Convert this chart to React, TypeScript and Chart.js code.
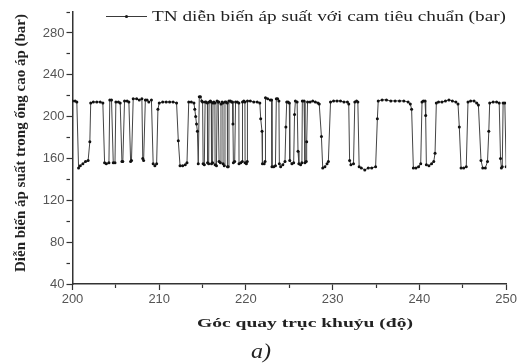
import { useEffect, useRef } from 'react';
import { Chart, registerables } from 'chart.js';

Chart.register(...registerables);

// Crank angle (deg) and pressure (bar), in four stretches
const angleSeg1 = [
  200.0, 200.3, 200.5, 200.7, 200.9, 201.2, 201.5, 201.8, 202.0, 202.1,
  202.4, 202.8, 203.2, 203.5, 203.7, 203.9, 204.2, 204.3, 204.5, 204.7,
  204.9, 205.0, 205.3, 205.5, 205.7, 205.8, 206.0, 206.3, 206.5, 206.7,
  206.8, 207.0, 207.4, 207.7, 208.0, 208.1, 208.2, 208.4, 208.6, 208.8,
  209.1, 209.3, 209.5, 209.7, 209.85, 210.0, 210.4, 210.8, 211.2, 211.6,
  212.0, 212.2, 212.4, 212.7, 213.0, 213.2, 213.4, 213.7, 214.0, 214.1,
  214.2, 214.3, 214.4, 214.5,
];
const pressureSeg1 = [
  215, 215, 214, 151, 153, 155, 157, 158, 176, 213,
  214, 214, 214, 213, 156, 155, 156, 216, 216, 156,
  156, 214, 214, 213, 157, 157, 215, 215, 214, 157,
  158, 217, 217, 216, 217, 160, 158, 216, 216, 214,
  216, 155, 153, 155, 207, 213, 214, 214, 214, 214,
  213, 177, 153, 153, 154, 156, 214, 214, 213, 207,
  200, 193, 186, 155,
];

const angleSeg2 = [
  214.62, 214.75, 214.9, 215.0, 215.06, 215.2, 215.29, 215.4, 215.55, 215.57,
  215.7, 215.75, 215.9, 216.0, 216.03, 216.15, 216.2, 216.3, 216.42, 216.44,
  216.6, 216.67, 216.8, 216.88, 216.9, 217.05, 217.12, 217.25, 217.34, 217.36,
  217.5, 217.58, 217.7, 217.85, 217.87, 217.95, 218.04, 218.2, 218.35, 218.45,
  218.5, 218.55, 218.7, 218.8, 219.0, 219.18, 219.2, 219.4, 219.58, 219.6,
  219.75, 219.88, 219.9, 220.05, 220.15, 220.17, 220.5, 220.9, 221.3, 221.6,
];
const pressureSeg2 = [
  219, 219, 215, 214, 155, 154, 214, 214, 213, 156,
  155, 214, 215, 214, 155, 156, 213, 214, 213, 154,
  153, 215, 214, 214, 157, 156, 212, 214, 213, 155,
  153, 214, 214, 213, 152, 152, 215, 215, 214, 214,
  193, 156, 157, 214, 214, 213, 155, 156, 157, 214,
  215, 214, 156, 155, 157, 215, 215, 214, 214, 213,
];

const angleSeg3 = [
  221.7, 221.85, 221.9, 222.1, 222.2, 222.25, 222.5, 222.8, 222.95, 223.0,
  223.2, 223.4, 223.5, 223.65, 223.8, 223.85, 224.0, 224.25, 224.5, 224.6,
  224.7, 224.85, 225.0, 225.05, 225.3, 225.5, 225.6, 225.7, 225.9, 226.0,
  226.1, 226.3, 226.45, 226.5, 226.7, 226.8, 226.95, 227.0, 227.1,
];
const pressureSeg3 = [
  198, 186, 155, 155, 157, 218, 217, 216, 216, 152,
  152, 153, 217, 217, 215, 155, 152, 154, 157, 190,
  214, 214, 213, 158, 155, 156, 202, 215, 214, 167,
  155, 154, 156, 215, 215, 156, 157, 176, 214,
];

const angleSeg4 = [
  227.4, 227.7, 228.0, 228.3, 228.45, 228.7, 228.85, 229.1, 229.35, 229.5,
  229.75, 230.1, 230.5, 230.9, 231.3, 231.7, 231.85, 231.95, 232.1, 232.4,
  232.55, 232.75, 232.9, 233.05, 233.3, 233.7, 234.1, 234.5, 234.95, 235.15,
  235.25, 235.7, 236.2, 236.7, 237.2, 237.7, 238.2, 238.7, 238.95, 239.1,
  239.3, 239.6, 239.9, 240.15, 240.3, 240.45, 240.65, 240.72, 240.8, 241.1,
  241.4, 241.65, 241.8, 241.95, 242.2, 242.6, 243.0, 243.4, 243.8, 244.2,
  244.45, 244.6, 244.8, 245.1, 245.4, 245.6, 245.9, 246.3, 246.6, 246.8,
  247.1, 247.3, 247.6, 247.85, 248.0, 248.1, 248.5, 248.9, 249.2, 249.35,
  249.45, 249.55, 249.65, 249.85, 250.0,
];
const pressureSeg4 = [
  214, 215, 214, 213, 212, 181, 151, 152, 155, 157,
  214, 215, 215, 215, 214, 214, 212, 158, 154, 155,
  214, 215, 214, 152, 151, 149, 151, 151, 152, 198,
  215, 216, 216, 215, 215, 215, 215, 214, 212, 207,
  151, 151, 152, 155, 214, 215, 215, 201, 154, 153,
  155, 157, 165, 213, 214, 214, 215, 216, 215, 214,
  212, 190, 151, 151, 152, 214, 215, 215, 213, 211,
  158, 151, 151, 157, 186, 213, 214, 214, 213, 160,
  151, 152, 213, 213, 152,
];

const crankAngle = [...angleSeg1, ...angleSeg2, ...angleSeg3, ...angleSeg4];
const pressure = [...pressureSeg1, ...pressureSeg2, ...pressureSeg3, ...pressureSeg4];

const xTickLabels = [200, 210, 220, 230, 240, 250];
const yTickLabels = [40, 80, 120, 160, 200, 240, 280];

const seriesLabel = 'TN diễn biến áp suất với cam tiêu chuẩn (bar)';
const xTitle = 'Góc quay trục khuỷu (độ)';
const yTitle = 'Diễn biến áp suất trong ống cao áp (bar)';
const caption = 'a)';

function fitText(
  ctx: CanvasRenderingContext2D,
  text: string,
  x: number,
  y: number,
  width: number,
  font: string,
  color: string,
  rotate = false,
) {
  ctx.save();
  ctx.font = font;
  ctx.fillStyle = color;
  ctx.textBaseline = 'alphabetic';
  ctx.textAlign = 'left';
  const w = ctx.measureText(text).width;
  ctx.translate(x, y);
  if (rotate) ctx.rotate(-Math.PI / 2);
  ctx.scale(width / w, 1);
  ctx.fillText(text, 0, 0);
  ctx.restore();
}

const textPlugin = {
  id: 'refTexts',
  afterDraw(chart: any) {
    const ctx: CanvasRenderingContext2D = chart.ctx;
    // legend sample
    ctx.save();
    ctx.strokeStyle = '#3a3a3a';
    ctx.lineWidth = 1;
    ctx.beginPath();
    ctx.moveTo(106, 16.5);
    ctx.lineTo(147, 16.5);
    ctx.stroke();
    ctx.fillStyle = '#1a1a1a';
    ctx.beginPath();
    ctx.arc(126.5, 16.5, 1.6, 0, Math.PI * 2);
    ctx.fill();
    ctx.restore();
    fitText(ctx, seriesLabel, 152, 21, 354, '14px "Liberation Serif"', '#222');
    fitText(ctx, xTitle, 197, 327, 216, 'bold 13px "Liberation Serif"', '#222');
    fitText(ctx, yTitle, 25, 272, 258, 'bold 15px "Liberation Serif"', '#222', true);
    fitText(ctx, caption, 251, 358, 20, 'italic 22px "Liberation Serif"', '#222');
  },
};

export default function App() {
  const ref = useRef<HTMLCanvasElement | null>(null);

  useEffect(() => {
    document.body.style.margin = '0';
    const canvas = ref.current;
    if (!canvas) return;
    const points = crankAngle.map((x, i) => ({ x, y: pressure[i] }));
    const tickFont = { family: '"Liberation Sans", Arial, sans-serif', size: 13 };
    const chart = new Chart(canvas, {
      type: 'line',
      data: {
        datasets: [
          {
            label: seriesLabel,
            data: points,
            borderColor: '#444',
            borderWidth: 1,
            tension: 0,
            pointRadius: 1.5,
            pointBackgroundColor: '#111',
            pointBorderWidth: 0,
            fill: false,
          },
        ],
      },
      options: {
        animation: false,
        responsive: false,
        events: [],
        layout: { padding: { left: 0, right: 12, top: 12, bottom: 0 } },
        plugins: {
          legend: { display: false },
          tooltip: { enabled: false },
          title: { display: false },
        },
        scales: {
          x: {
            type: 'linear',
            min: 200,
            max: 250,
            afterFit: (s: any) => {
              s.height = 79;
            },
            border: { display: true, color: '#333', width: 1.5 },
            grid: {
              drawOnChartArea: false,
              drawTicks: true,
              tickLength: 6,
              tickColor: '#333',
              tickWidth: 1.2,
              tickBorderDash: (c: any) =>
                c.tick && xTickLabels.includes(c.tick.value) ? [] : [3.5, 50],
            } as any,
            ticks: {
              stepSize: 5,
              autoSkip: false,
              maxRotation: 0,
              padding: 2,
              color: '#555',
              font: tickFont,
              callback: (v: any) => (xTickLabels.includes(Number(v)) ? String(v) : ''),
            },
          },
          y: {
            type: 'linear',
            min: 40,
            max: 300,
            afterFit: (s: any) => {
              s.width = 72.5;
            },
            border: { display: true, color: '#333', width: 1.5 },
            grid: {
              drawOnChartArea: false,
              drawTicks: true,
              tickLength: 6,
              tickColor: '#333',
              tickWidth: 1.2,
              tickBorderDash: (c: any) =>
                c.tick && yTickLabels.includes(c.tick.value) ? [] : [3.5, 50],
            } as any,
            ticks: {
              stepSize: 20,
              autoSkip: false,
              padding: 2,
              color: '#555',
              font: tickFont,
              callback: (v: any) => (yTickLabels.includes(Number(v)) ? String(v) : ''),
            },
          },
        },
      },
      plugins: [textPlugin],
    });
    return () => chart.destroy();
  }, []);

  return (
    <div style={{ width: 519, height: 363, background: '#fff' }}>
      <canvas ref={ref} width={519} height={363} style={{ display: 'block' }} />
    </div>
  );
}
